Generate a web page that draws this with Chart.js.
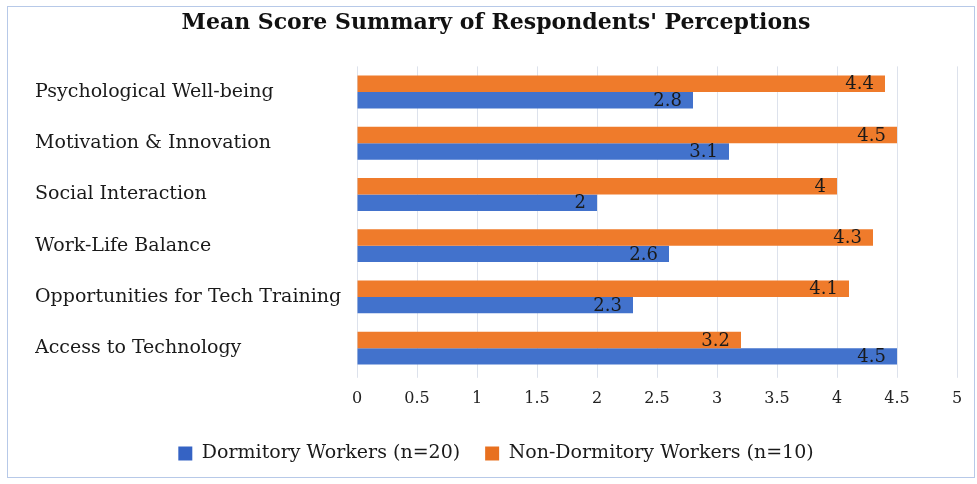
<!DOCTYPE html>
<html>
<head>
<meta charset="utf-8">
<script src="https://cdn.jsdelivr.net/npm/chart.js@4"></script>
<style>
html,body{margin:0;padding:0;background:#fff;}
#wrap{position:relative;width:977px;height:484px;}
#frame{position:absolute;left:7px;top:6px;width:968px;height:472px;border:1px solid #b7c9e8;box-sizing:border-box;pointer-events:none;}
canvas{position:absolute;left:0;top:0;}
</style>
</head>
<body>
<div id="wrap"><canvas id="c" width="977" height="484"></canvas><div id="frame"></div></div>
<script>
const categories = ["Psychological Well-being","Motivation & Innovation","Social Interaction","Work-Life Balance","Opportunities for Tech Training","Access to Technology"];
const dormitory = [2.8, 3.1, 2, 2.6, 2.3, 4.5];
const nonDormitory = [4.4, 4.5, 4, 4.3, 4.1, 3.2];
const seriesNames = ["Dormitory Workers (n=20)", "Non-Dormitory Workers (n=10)"];
const xTicks = [0,0.5,1,1.5,2,2.5,3,3.5,4,4.5,5];

const FONT = "'DejaVu Serif', 'Liberation Serif', serif";

const labelPlugin = {
  id: 'endLabels',
  afterDatasetsDraw(chart) {
    const ctx = chart.ctx;
    ctx.save();
    ctx.font = "18px " + FONT;
    ctx.fillStyle = "#1a1a1a";
    ctx.textAlign = "right";
    ctx.textBaseline = "middle";
    chart.data.datasets.forEach((ds, i) => {
      const meta = chart.getDatasetMeta(i);
      meta.data.forEach((el, j) => {
        ctx.fillText(String(ds.data[j]), el.x - 11, el.y + 1);
      });
    });
    ctx.restore();
  }
};

function vGrad(ctx, top, mid, bottom) {
  const chart = ctx.chart;
  const el = ctx.element;
  if (!el || !chart.chartArea || el.height === undefined) return mid;
  const h = el.height;
  const y0 = el.y - h / 2;
  const g = chart.ctx.createLinearGradient(0, y0, 0, y0 + h);
  g.addColorStop(0, top);
  g.addColorStop(0.45, mid);
  g.addColorStop(1, bottom);
  return g;
}

new Chart(document.getElementById('c'), {
  type: 'bar',
  data: {
    labels: categories,
    datasets: [
      { label: seriesNames[1], data: nonDormitory,
        backgroundColor: c => vGrad(c, '#f59a5c', '#ef7b2b', '#e8701f'),
        categoryPercentage: 0.64, barPercentage: 1.0 },
      { label: seriesNames[0], data: dormitory,
        backgroundColor: c => vGrad(c, '#6a92d8', '#4272cc', '#3563c4'),
        categoryPercentage: 0.64, barPercentage: 1.0 }
    ]
  },
  options: {
    indexAxis: 'y',
    responsive: false,
    animation: false,
    layout: { padding: { left: 35, right: 20, top: 9, bottom: 11 } },
    plugins: {
      title: {
        display: true,
        text: "Mean Score Summary of Respondents' Perceptions",
        color: '#111',
        font: { family: FONT, size: 22, weight: 'bold' },
        padding: { top: 1, bottom: 30 }
      },
      legend: {
        position: 'bottom',
        reverse: true,
        labels: {
          color: '#1a1a1a',
          font: { family: FONT, size: 19 },
          boxWidth: 14, boxHeight: 14,
          padding: 25
        }
      },
      tooltip: { enabled: false }
    },
    scales: {
      x: {
        min: 0, max: 5,
        afterBuildTicks(scale) { scale.ticks = xTicks.map(v => ({ value: v })); },
        ticks: { color: '#222', font: { family: FONT, size: 16 }, padding: 11, callback: v => String(v) },
        grid: { color: '#dde2ec', tickLength: 4 },
        border: { display: false }
      },
      y: {
        ticks: { color: '#1a1a1a', crossAlign: 'far', font: { family: FONT, size: 19 } },
        grid: { display: false },
        border: { display: false },
        afterFit(scale) { scale.width = 322; }
      }
    }
  },
  plugins: [labelPlugin]
});
</script>
</body>
</html>
